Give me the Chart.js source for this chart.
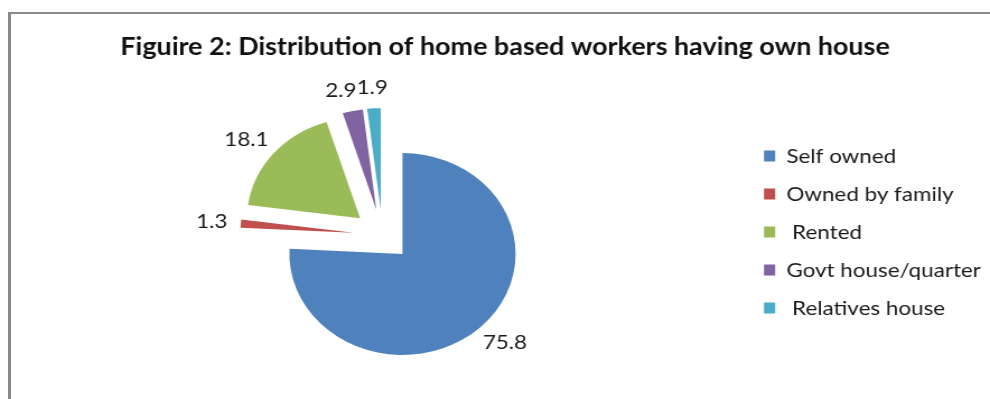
<!DOCTYPE html>
<html>
<head>
<meta charset="utf-8">
<script src="https://cdn.jsdelivr.net/npm/chart.js@4"></script>
<style>
  html, body { margin: 0; padding: 0; background: #fff; overflow: hidden; }
  body { width: 990px; height: 399px; position: relative; }
  #frame {
    position: absolute; left: 8px; top: 12px; width: 990px; height: 400px;
    border-left: 3px solid #8a8a8a; border-top: 2px solid #8a8a8a;
  }
  /* the original picture is stretched sideways, so the chart is too */
  #wrap {
    position: absolute; left: 10px; top: 0; width: 884px; height: 399px;
    transform: scaleX(1.12); transform-origin: 0 0;
  }
</style>
</head>
<body>
<div id="frame"></div>
<div id="wrap"><canvas id="house_chart"></canvas></div>
<script>
// data
var house_labels = ["Self owned", "Owned by family", " Rented", "Govt house/quarter", " Relatives house"];
var house_share = [75.8, 1.3, 18.1, 2.9, 1.9];
var house_colors = ["#4F81BD", "#C0504D", "#9BBB59", "#8064A2", "#4BACC6"];

var CANVAS_W = 884;
var EXPLODE = 26;          // every slice pulled out this far
var LABEL_GAP = 12;
var LEGEND_FONT = 20;
var LEGEND_PAD = 18;
var LEGEND_LEFT = 655.2;
var LEGEND_MAX = 219;

// legend width as chart.js works it out, so the right padding can be set from it
var measure = document.createElement("canvas").getContext("2d");
measure.font = LEGEND_FONT + "px Lato";
var longest = Math.max.apply(null, house_labels.map(function(t) { return measure.measureText(t).width; }));
var legend_w = Math.min(LEGEND_MAX, LEGEND_PAD + 10 + LEGEND_FONT / 2 + longest + 10);
var right_pad = Math.max(0, CANVAS_W - LEGEND_LEFT - legend_w);

// exploded pie: draw each arc moved out along its middle angle
var explodeSlices = {
  id: "explodeSlices",
  beforeDatasetDraw: function(chart, args) {
    var ctx = chart.ctx;
    args.meta.data.forEach(function(arc) {
      var mid = (arc.startAngle + arc.endAngle) / 2;
      ctx.save();
      ctx.translate(Math.cos(mid) * EXPLODE, Math.sin(mid) * EXPLODE);
      arc.draw(ctx);
      ctx.restore();
    });
    return false;
  }
};

// numbers outside the slices
var outsideLabels = {
  id: "outsideLabels",
  afterDatasetsDraw: function(chart) {
    var ctx = chart.ctx;
    var meta = chart.getDatasetMeta(0);
    ctx.save();
    ctx.font = "20px Lato";
    ctx.fillStyle = "#1a1a1a";
    ctx.textAlign = "center";
    ctx.textBaseline = "middle";
    var spots = meta.data.map(function(arc, i) {
      var mid = (arc.startAngle + arc.endAngle) / 2;
      var dx = Math.cos(mid), dy = Math.sin(mid);
      var r = arc.outerRadius + EXPLODE + LABEL_GAP;
      var txt = house_share[i].toFixed(1);
      var hw = ctx.measureText(txt).width / 2;
      return { txt: txt, hw: hw, x: arc.x + dx * r + dx * hw, y: arc.y + dy * r + dy * 9 };
    });
    // push neighbours apart when they run into each other
    for (var i = 1; i < spots.length; i++) {
      var a = spots[i - 1], b = spots[i];
      if (Math.abs(a.y - b.y) < 18) {
        var left = a.x < b.x ? a : b, right = a.x < b.x ? b : a;
        var overlap = (left.x + left.hw) - (right.x - right.hw);
        if (overlap > 0) left.x -= overlap;
      }
    }
    spots.forEach(function(s) { ctx.fillText(s.txt, s.x, s.y); });
    ctx.restore();
  }
};

var house_ctx = document.getElementById("house_chart").getContext("2d");

var house_chart = new Chart(house_ctx, {
  type: "pie",
  data: {
    labels: house_labels,
    datasets: [{
      data: house_share,
      backgroundColor: house_colors,
      borderWidth: 0
    }]
  },
  options: {
    responsive: true,
    maintainAspectRatio: false,
    animation: false,
    layout: { padding: { left: 9.8, right: right_pad, top: 0, bottom: 62.9 } },
    plugins: {
      title: {
        display: true,
        text: "Figuire 2: Distribution of home based workers having own house",
        color: "#111",
        font: { family: "Lato", size: 24, weight: "bold" },
        padding: { top: 32.6, bottom: 72.7 }
      },
      legend: {
        position: "right",
        align: "end",
        fullSize: true,
        maxWidth: LEGEND_MAX,
        labels: {
          usePointStyle: true,
          pointStyle: "rect",
          pointStyleWidth: 10,
          boxHeight: 11,
          padding: LEGEND_PAD,
          color: "#1a1a1a",
          font: { family: "Lato", size: LEGEND_FONT }
        }
      },
      tooltip: { enabled: false }
    }
  },
  plugins: [explodeSlices, outsideLabels]
});
</script>
</body>
</html>
